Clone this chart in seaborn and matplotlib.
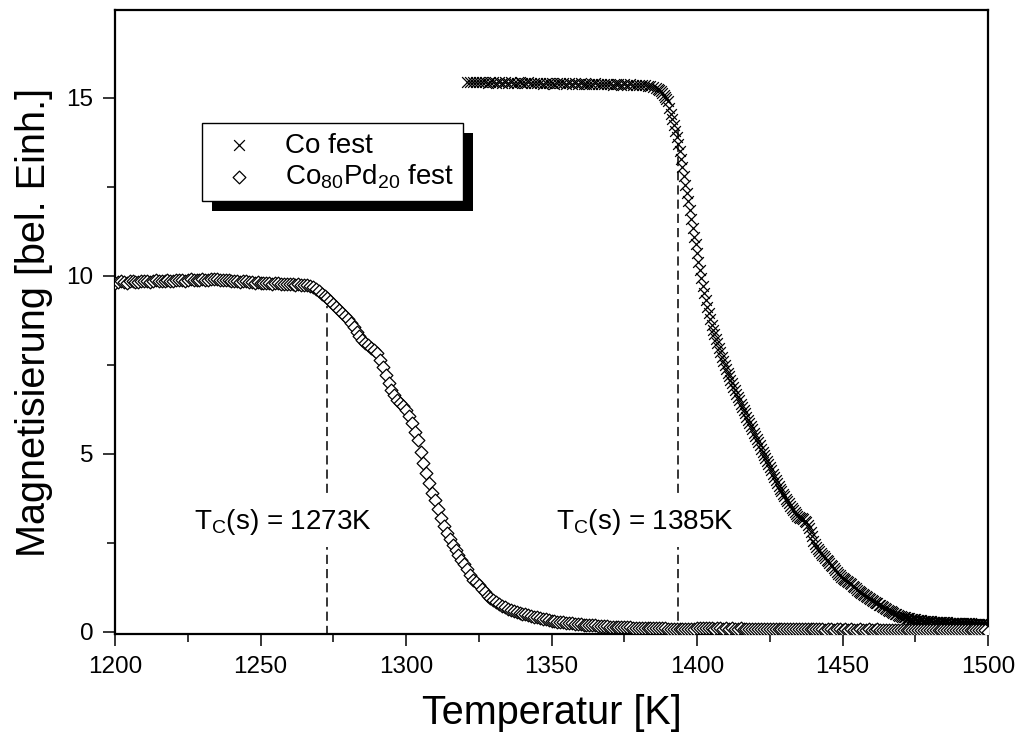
import numpy as np
import pandas as pd
import matplotlib
matplotlib.use("Agg")
import matplotlib.pyplot as plt
from matplotlib.patches import Rectangle
from matplotlib.ticker import MultipleLocator
import seaborn as sns

# Magnetisation of solid Co: 1 K steps 1321-1385 K, then 0.5 K steps to 1500 K
co_values = [
    15.45, 15.46, 15.44, 15.45, 15.46, 15.44, 15.45, 15.43, 15.44,
    15.45, 15.43, 15.44, 15.42, 15.44, 15.43, 15.45, 15.43, 15.42, 15.44,
    15.43, 15.42, 15.44, 15.42, 15.41, 15.43, 15.42, 15.40, 15.42, 15.41,
    15.42, 15.40, 15.41, 15.43, 15.41, 15.40, 15.42, 15.40, 15.41, 15.39,
    15.41, 15.40, 15.38, 15.40, 15.39, 15.41, 15.39, 15.38, 15.40, 15.38,
    15.39, 15.37, 15.39, 15.38, 15.36, 15.38, 15.37, 15.39, 15.37, 15.36,
    15.37, 15.36, 15.35, 15.34, 15.33, 15.31,
    # 0.5 K steps from 1386 K
    15.28, 15.25, 15.22, 15.18, 15.14, 15.08, 15.02, 14.96,
    14.90, 14.72, 14.55, 14.40, 14.25, 14.08, 13.90, 13.70, 13.50, 13.28,
    13.05, 12.80, 12.55, 12.32, 12.10, 11.85, 11.60, 11.35, 11.10, 10.88,
    10.65, 10.40, 10.15, 9.93, 9.72, 9.52, 9.32, 9.13, 8.95, 8.78,
    8.62, 8.48, 8.35, 8.22, 8.10, 7.97, 7.85, 7.72, 7.60, 7.49,
    7.38, 7.28, 7.18, 7.08, 6.98, 6.88, 6.78, 6.69, 6.60, 6.50,
    6.40, 6.31, 6.22, 6.13, 6.04, 5.95, 5.86, 5.77, 5.68, 5.59,
    5.50, 5.41, 5.32, 5.23, 5.14, 5.05, 4.97, 4.88, 4.80, 4.71,
    4.62, 4.53, 4.44, 4.35, 4.27, 4.18, 4.10, 4.02, 3.94, 3.87,
    3.80, 3.73, 3.66, 3.60, 3.54, 3.48, 3.42, 3.36, 3.30, 3.25,
    3.22, 3.20, 3.18, 3.15, 3.12, 3.07, 3.00, 2.90, 2.80, 2.68,
    2.55, 2.46, 2.38, 2.32, 2.26, 2.21, 2.16, 2.11, 2.06, 2.02,
    1.98, 1.93, 1.88, 1.83, 1.78, 1.73, 1.68, 1.63, 1.58, 1.54,
    1.50, 1.47, 1.44, 1.41, 1.38, 1.36, 1.33, 1.29, 1.25, 1.21,
    1.18, 1.15, 1.12, 1.09, 1.06, 1.03, 1.00, 0.97, 0.94, 0.91,
    0.89, 0.86, 0.84, 0.81, 0.79, 0.76, 0.74, 0.71, 0.69, 0.66,
    0.64, 0.61, 0.59, 0.57, 0.55, 0.52, 0.50, 0.48, 0.47, 0.45,
    0.44, 0.42, 0.41, 0.40, 0.39, 0.38, 0.37, 0.36, 0.35, 0.35,
    0.34, 0.33, 0.33, 0.32, 0.32, 0.31, 0.31, 0.30, 0.30, 0.29,
    0.29, 0.29, 0.28, 0.28, 0.28, 0.27, 0.27, 0.27, 0.27, 0.26,
    0.26, 0.26, 0.26, 0.25, 0.25, 0.25, 0.25, 0.25, 0.25, 0.24,
    0.24, 0.24, 0.24, 0.24, 0.23, 0.23, 0.23, 0.23, 0.23, 0.22,
    0.22, 0.22, 0.22, 0.22, 0.22, 0.21, 0.21, 0.21, 0.21, 0.20,
    0.20,
]
co_temps = np.concatenate([np.arange(1321, 1386), np.arange(1386, 1500.01, 0.5)])

# Magnetisation of solid Co80Pd20 (1 K steps from 1200 K)
copd_values = [
    9.80, 9.82, 9.84, 9.83, 9.81, 9.84, 9.85, 9.83, 9.82, 9.84,
    9.86, 9.84, 9.83, 9.85, 9.87, 9.85, 9.84, 9.86, 9.88, 9.86,
    9.85, 9.87, 9.89, 9.87, 9.86, 9.88, 9.90, 9.88, 9.87, 9.89,
    9.91, 9.89, 9.88, 9.90, 9.92, 9.90, 9.88, 9.87, 9.89, 9.87,
    9.85, 9.86, 9.84, 9.83, 9.85, 9.84, 9.82, 9.83, 9.81, 9.82,
    9.80, 9.81, 9.79, 9.80, 9.78, 9.79, 9.80, 9.78, 9.77, 9.78,
    9.76, 9.77, 9.75, 9.76, 9.74, 9.73, 9.75, 9.72, 9.68, 9.63,
    9.57, 9.50, 9.44, 9.37, 9.29, 9.20, 9.12, 9.03, 8.94, 8.86,
    8.78, 8.68, 8.56, 8.43, 8.32, 8.20, 8.12, 8.05, 7.97, 7.90,
    7.83, 7.64, 7.44, 7.20, 6.98, 6.80, 6.66, 6.52, 6.42, 6.33,
    6.24, 6.05, 5.87, 5.62, 5.39, 5.06, 4.75, 4.45, 4.17, 3.90,
    3.70, 3.45, 3.20, 2.98, 2.78, 2.60, 2.44, 2.30, 2.15, 2.02,
    1.90, 1.75, 1.58, 1.46, 1.38, 1.30, 1.20, 1.10, 1.00, 0.93,
    0.88, 0.82, 0.77, 0.72, 0.68, 0.64, 0.61, 0.58, 0.55, 0.53,
    0.50, 0.48, 0.46, 0.44, 0.42, 0.40, 0.38, 0.36, 0.34, 0.33,
    0.31, 0.30, 0.28, 0.27, 0.26, 0.25, 0.24, 0.23, 0.22, 0.21,
    0.20, 0.19, 0.19, 0.18, 0.17, 0.17, 0.16, 0.16, 0.15, 0.15,
    0.14, 0.14, 0.13, 0.13, 0.13, 0.12, 0.12, 0.12, 0.11, 0.11,
    0.11, 0.10, 0.10, 0.10, 0.10, 0.09, 0.09, 0.09, 0.09, 0.09,
    0.08, 0.08, 0.08, 0.08, 0.08, 0.08, 0.07, 0.07, 0.07, 0.07,
    0.10, 0.09, 0.10, 0.09, 0.09, 0.10, 0.08, 0.09, 0.09, 0.08,
    0.09, 0.08, 0.09, 0.08, 0.08, 0.09, 0.08, 0.07, 0.08, 0.08,
    0.07, 0.08, 0.07, 0.08, 0.07, 0.07, 0.08, 0.07, 0.06, 0.07,
    0.07, 0.06, 0.07, 0.07, 0.06, 0.07, 0.06, 0.06, 0.07, 0.06,
    0.06, 0.07, 0.06, 0.06, 0.05, 0.06, 0.06, 0.05, 0.06, 0.06,
    0.05, 0.06, 0.05, 0.06, 0.05, 0.05, 0.06, 0.05, 0.05, 0.06,
    0.05, 0.05, 0.06, 0.05, 0.05, 0.04, 0.05, 0.05, 0.04, 0.05,
    0.05, 0.04, 0.05, 0.04, 0.05, 0.04, 0.04, 0.05, 0.04, 0.04,
    0.05, 0.04, 0.04, 0.05, 0.04, 0.04, 0.04, 0.05, 0.04, 0.04,
    0.04, 0.04, 0.05, 0.04, 0.04, 0.04, 0.04, 0.04, 0.03, 0.04, 0.00,
]
copd_temps = np.arange(1200, 1501)

assert len(co_values) == len(co_temps)
assert len(copd_values) == len(copd_temps)

series_labels = ["Co fest", r"Co$_{80}$Pd$_{20}$ fest"]
curie_temps = [1273, 1393.5]
curie_tops = [9.15, 14.2]
curie_texts = [r"T$_{\mathrm{C}}$(s) = 1273K", r"T$_{\mathrm{C}}$(s) = 1385K"]

sns.set_style("ticks")
plt.rcParams["font.family"] = ["Liberation Sans", "DejaVu Sans"]
plt.rcParams["mathtext.fontset"] = "custom"
plt.rcParams["mathtext.rm"] = "Liberation Sans"
plt.rcParams["mathtext.it"] = "Liberation Sans"
for key in ("text.color", "axes.labelcolor", "xtick.color", "ytick.color",
            "axes.edgecolor"):
    plt.rcParams[key] = "black"

co_df = pd.DataFrame({"T": co_temps, "M": co_values})
copd_df = pd.DataFrame({"T": copd_temps, "M": copd_values})

fig = plt.figure(figsize=(10.19, 7.40), dpi=100)
ax = fig.add_axes([0.1129, 0.1432, 0.8567, 0.8433])

sns.scatterplot(data=co_df, x="T", y="M", marker="x", s=60, color="black",
                linewidth=0.9, ax=ax, label=series_labels[0], zorder=3)
sns.scatterplot(data=copd_df, x="T", y="M", marker="D", s=42, color="white",
                edgecolor="black", linewidth=0.9, ax=ax, label=series_labels[1],
                zorder=3)

# dashed markers of the Curie temperatures
for tc, top in zip(curie_temps, curie_tops):
    ax.plot([tc, tc], [-0.1, top], color="black", lw=1.1,
            linestyle=(0, (6, 3.3)), zorder=2)

text_x = [1257.7, 1382.1]
for tx, label in zip(text_x, curie_texts):
    ax.text(tx, 3.08, label, ha="center", va="center", fontsize=20,
            color="black",
            bbox=dict(facecolor="white", edgecolor="none", pad=7), zorder=2.5)

ax.set_xlim(1200, 1500)
ax.set_ylim(-0.07, 17.47)
ax.xaxis.set_major_locator(MultipleLocator(50))
ax.xaxis.set_minor_locator(MultipleLocator(25))
ax.yaxis.set_major_locator(MultipleLocator(5))
ax.yaxis.set_minor_locator(MultipleLocator(2.5))
ax.tick_params(which="both", direction="out", top=False, right=False,
               width=1.1, colors="black")
ax.tick_params(which="major", length=8.5, labelsize=17.5, pad=7)
ax.tick_params(which="minor", length=5.5)
for side in ax.spines.values():
    side.set_linewidth(1.6)
    side.set_color("black")

ax.set_xlabel("Temperatur [K]", fontsize=28.5, labelpad=12, color="black")
ax.set_ylabel("Magnetisierung [bel. Einh.]", fontsize=28.5, labelpad=10,
              color="black")

leg = ax.legend(loc="upper left", bbox_to_anchor=(0.198, 0.834),
                bbox_transform=fig.transFigure, borderaxespad=0,
                fontsize=20, frameon=True, fancybox=False, framealpha=1,
                edgecolor="black", handlelength=2.0, handletextpad=0.63,
                borderpad=0.35, labelspacing=0.15, scatterpoints=1)
leg.get_frame().set_linewidth(1.0)
leg.set_zorder(6)
for t in leg.get_texts():
    t.set_color("black")

# solid drop shadow behind the legend box
fig.canvas.draw()
bb = leg.get_window_extent().transformed(fig.transFigure.inverted())
dx, dy = 10 / 1019, 10 / 740
shadow = Rectangle((bb.x0 + dx, bb.y0 - dy), bb.width, bb.height,
                   transform=fig.transFigure, facecolor="black",
                   edgecolor="none", zorder=5.5, clip_on=False)
ax.add_artist(shadow)

fig.savefig("out.png", dpi=100)
